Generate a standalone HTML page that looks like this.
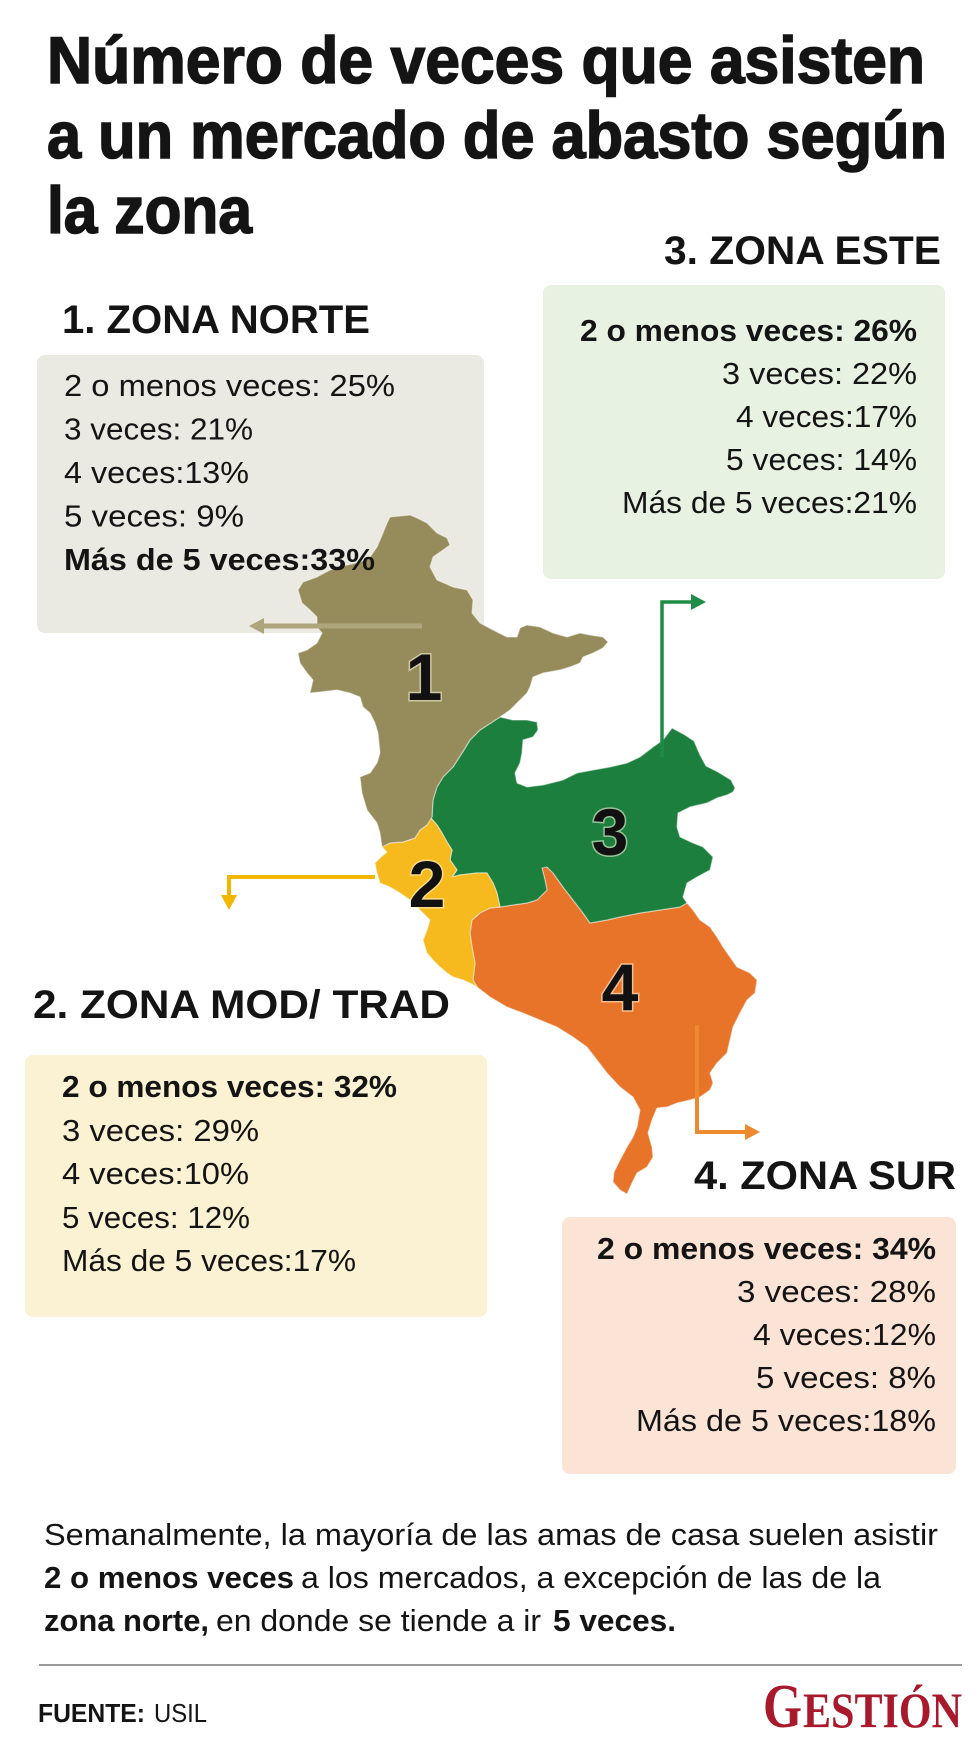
<!DOCTYPE html>
<html><head><meta charset="utf-8"><style>
html,body{margin:0;padding:0;background:#fff;}
svg{display:block;}
text{font-family:"Liberation Sans",sans-serif;fill:#141414;}
.r{font-size:31px;}
.b{font-size:31px;font-weight:bold;}
.h{font-size:40px;font-weight:bold;}
.t{font-size:66px;font-weight:bold;stroke:#141414;stroke-width:1.6px;}
.n{font-size:66px;font-weight:bold;fill:#111;stroke:rgba(255,250,225,0.55);stroke-width:3px;paint-order:stroke;}
</style></head><body>
<svg width="980" height="1763" viewBox="0 0 980 1763" xmlns="http://www.w3.org/2000/svg">
<rect width="980" height="1763" fill="#fff"/>

<!-- Title -->
<text class="t" x="47" y="83" textLength="878" lengthAdjust="spacingAndGlyphs">Número de veces que asisten</text>
<text class="t" x="47" y="158" textLength="900" lengthAdjust="spacingAndGlyphs">a un mercado de abasto según</text>
<text class="t" x="47" y="233" textLength="205" lengthAdjust="spacingAndGlyphs">la zona</text>

<!-- Boxes -->
<rect x="37" y="355" width="447" height="278" rx="8" fill="#ebeae2"/>
<rect x="543" y="285" width="402" height="294" rx="8" fill="#e8f2e2"/>
<rect x="25" y="1055" width="462" height="262" rx="8" fill="#fbf1d3"/>
<rect x="562" y="1217" width="394" height="257" rx="8" fill="#fbe4d5"/>

<!-- Map -->
<g stroke="rgba(255,255,255,0.45)" stroke-width="1.2" stroke-linejoin="round">
<polygon fill="#e8742a" points="543,866 547,867 553,873 563,887 573,900 583,913 590,923 607,920 620,917 640,913 660,910 680,907 687,903 693,910 700,920 710,927 717,937 723,947 730,957 737,967 750,973 757,980 755,993 747,1000 740,1013 733,1027 730,1040 727,1053 717,1063 710,1073 713,1083 710,1090 700,1097 690,1100 677,1103 667,1107 657,1108 652,1120 648,1133 652,1147 653,1157 647,1167 637,1173 632,1183 627,1194 620,1190 613,1182 614,1172 620,1160 627,1147 633,1137 637,1127 640,1110 633,1097 620,1087 607,1073 597,1060 587,1047 573,1037 557,1027 540,1020 523,1013 507,1007 490,997 477,987 473,980 475,963 472,947 470,933 472,920 480,913 490,908 500,907 513,905 527,903 537,900 547,890 545,880 542,868"/>
<polygon fill="#1d7f3e" points="500,717 513,720 527,720 537,722 538,730 533,737 523,740 522,753 520,763 515,773 517,783 527,787 543,785 563,780 577,773 593,770 610,767 627,763 640,757 653,747 663,740 672,728 685,735 694,741 700,755 706,766 718,772 731,780 735,788 733,792 727,795 717,798 707,803 690,807 678,813 677,827 680,837 693,843 703,847 713,857 710,870 697,877 687,883 683,897 687,903 680,907 660,910 640,913 620,917 607,920 590,923 583,913 573,900 563,887 553,873 547,867 542,868 545,880 547,890 537,900 527,903 513,905 500,907 497,893 493,883 487,873 477,873 460,875 452,877 457,870 450,860 452,850 447,842 442,833 437,825 430,817 432,817 433,800 437,787 443,777 453,767 462,753 470,740 480,730"/>
<polygon fill="#f6b91e" points="430,817 437,825 442,833 447,842 452,850 450,860 457,870 452,877 460,875 477,873 487,873 493,883 497,893 500,907 490,908 480,913 472,920 470,933 472,947 475,963 473,980 477,987 470,983 463,980 453,977 447,973 440,967 433,960 427,953 423,940 427,930 430,920 423,913 417,907 410,900 400,893 390,887 380,883 377,873 375,863 380,858 387,852 382,847 390,843 403,842 415,838 420,830 427,825"/>
<polygon fill="#968b5a" points="390,517 410,515 417,518 427,523 437,533 447,538 450,545 443,550 433,557 430,567 437,580 453,587 467,590 473,600 472,613 480,623 493,630 507,637 517,637 520,628 527,625 540,627 553,633 567,637 580,633 590,635 603,637 608,642 603,648 593,653 583,657 580,663 570,667 560,670 543,673 533,677 530,687 527,693 520,700 510,710 500,717 480,730 470,740 462,753 453,767 443,777 437,787 433,800 432,817 427,825 420,830 415,838 403,842 390,843 382,847 380,833 377,823 367,810 362,793 360,777 370,773 377,763 380,753 378,733 375,723 370,713 363,707 360,697 350,693 337,690 320,692 310,693 313,680 307,673 300,663 298,653 307,650 317,643 322,633 317,627 317,617 310,610 302,603 298,590 303,582 317,577 330,570 347,565 360,562 370,557 377,547 383,533 387,523"/>
</g>

<!-- Arrows -->
<line x1="422" y1="626" x2="262" y2="626" stroke="#aea57d" stroke-width="5"/>
<polygon points="249,626 264,618 264,634" fill="#aea57d"/>
<polyline points="662,757 662,602 692,602" fill="none" stroke="#1f8c46" stroke-width="3.5"/>
<polygon points="706,602 691,594 691,610" fill="#1f8c46"/>
<polyline points="375,877 229,877 229,897" fill="none" stroke="#f2b600" stroke-width="4"/>
<polygon points="229,910 221,895 237,895" fill="#f2b600"/>
<polyline points="697,1025 697,1132 745,1132" fill="none" stroke="#ec8a2d" stroke-width="4"/>
<polygon points="760,1132 745,1124 745,1140" fill="#ec8a2d"/>

<!-- Map numbers -->
<text class="n" x="424" y="700" text-anchor="middle">1</text>
<text class="n" x="427" y="907" text-anchor="middle">2</text>
<text class="n" x="610" y="855" text-anchor="middle">3</text>
<text class="n" x="620" y="1010" text-anchor="middle">4</text>

<!-- Headings -->
<text class="h" x="62" y="333" textLength="308" lengthAdjust="spacingAndGlyphs">1. ZONA NORTE</text>
<text class="h" x="664" y="264" textLength="277" lengthAdjust="spacingAndGlyphs">3. ZONA ESTE</text>
<text class="h" x="33" y="1018" textLength="417" lengthAdjust="spacingAndGlyphs">2. ZONA MOD/ TRAD</text>
<text class="h" x="694" y="1189" textLength="262" lengthAdjust="spacingAndGlyphs">4. ZONA SUR</text>

<!-- Norte -->
<text class="r" x="64" y="396" textLength="331" lengthAdjust="spacingAndGlyphs">2 o menos veces: 25%</text>
<text class="r" x="64" y="439.5" textLength="189" lengthAdjust="spacingAndGlyphs">3 veces: 21%</text>
<text class="r" x="64" y="483" textLength="185" lengthAdjust="spacingAndGlyphs">4 veces:13%</text>
<text class="r" x="64" y="526.5" textLength="180" lengthAdjust="spacingAndGlyphs">5 veces: 9%</text>
<text class="b" x="64" y="570" textLength="311" lengthAdjust="spacingAndGlyphs">Más de 5 veces:33%</text>

<!-- Este -->
<text class="b" x="580" y="341" textLength="337" lengthAdjust="spacingAndGlyphs">2 o menos veces: 26%</text>
<text class="r" x="722" y="384" textLength="195" lengthAdjust="spacingAndGlyphs">3 veces: 22%</text>
<text class="r" x="736" y="427" textLength="181" lengthAdjust="spacingAndGlyphs">4 veces:17%</text>
<text class="r" x="726" y="470" textLength="191" lengthAdjust="spacingAndGlyphs">5 veces: 14%</text>
<text class="r" x="622" y="513" textLength="295" lengthAdjust="spacingAndGlyphs">Más de 5 veces:21%</text>

<!-- Mod/Trad -->
<text class="b" x="62" y="1097" textLength="335" lengthAdjust="spacingAndGlyphs">2 o menos veces: 32%</text>
<text class="r" x="62" y="1141" textLength="197" lengthAdjust="spacingAndGlyphs">3 veces: 29%</text>
<text class="r" x="62" y="1184" textLength="187" lengthAdjust="spacingAndGlyphs">4 veces:10%</text>
<text class="r" x="62" y="1228" textLength="188" lengthAdjust="spacingAndGlyphs">5 veces: 12%</text>
<text class="r" x="62" y="1271" textLength="294" lengthAdjust="spacingAndGlyphs">Más de 5 veces:17%</text>

<!-- Sur -->
<text class="b" x="597" y="1259" textLength="339" lengthAdjust="spacingAndGlyphs">2 o menos veces: 34%</text>
<text class="r" x="737" y="1302" textLength="199" lengthAdjust="spacingAndGlyphs">3 veces: 28%</text>
<text class="r" x="753" y="1345" textLength="183" lengthAdjust="spacingAndGlyphs">4 veces:12%</text>
<text class="r" x="756" y="1388" textLength="180" lengthAdjust="spacingAndGlyphs">5 veces: 8%</text>
<text class="r" x="636" y="1431" textLength="300" lengthAdjust="spacingAndGlyphs">Más de 5 veces:18%</text>

<!-- Paragraph -->
<text class="r" x="44" y="1545" textLength="894" lengthAdjust="spacingAndGlyphs">Semanalmente, la mayoría de las amas de casa suelen asistir</text>
<text class="b" x="44" y="1588" textLength="250" lengthAdjust="spacingAndGlyphs">2 o menos veces</text>
<text class="r" x="301" y="1588" textLength="580" lengthAdjust="spacingAndGlyphs">a los mercados, a excepción de las de la</text>
<text class="b" x="44" y="1631" textLength="165" lengthAdjust="spacingAndGlyphs">zona norte,</text>
<text class="r" x="216" y="1631" textLength="325" lengthAdjust="spacingAndGlyphs">en donde se tiende a ir</text>
<text class="b" x="553" y="1631" textLength="123" lengthAdjust="spacingAndGlyphs">5 veces.</text>

<!-- Footer -->
<line x1="39" y1="1665" x2="962" y2="1665" stroke="#7a7a7a" stroke-width="1.5"/>
<text x="38" y="1722" style="font-size:26px;font-weight:bold" textLength="107" lengthAdjust="spacingAndGlyphs">FUENTE:</text>
<text x="154" y="1722" style="font-size:26px" textLength="53" lengthAdjust="spacingAndGlyphs">USIL</text>
<text x="763" y="1727" style="font-family:'Liberation Serif',serif;font-size:62px;font-weight:bold;fill:#a8192b" textLength="39" lengthAdjust="spacingAndGlyphs">G</text>
<text x="803" y="1727" style="font-family:'Liberation Serif',serif;font-size:50px;font-weight:bold;fill:#a8192b" textLength="159" lengthAdjust="spacingAndGlyphs">ESTIÓN</text>
</svg>
</body></html>
